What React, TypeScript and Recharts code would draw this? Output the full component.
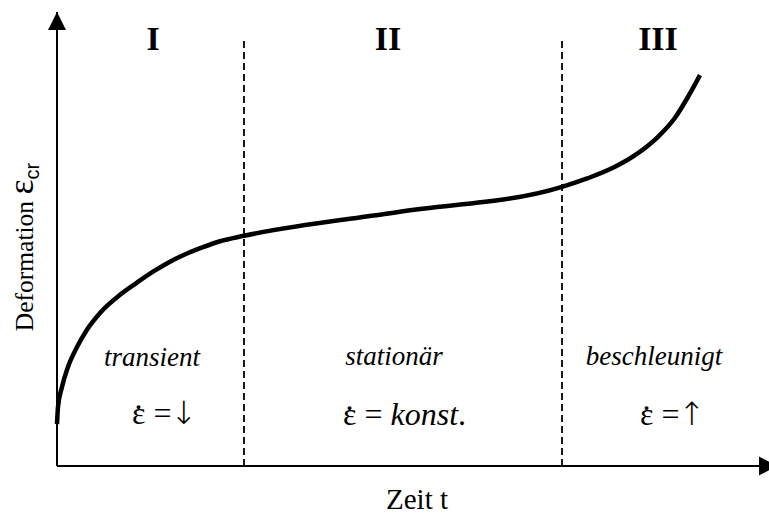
import React from 'react';
import {
  LineChart, Line, XAxis, YAxis, ReferenceLine, ReferenceDot, Customized,
} from 'recharts';

// Zeit t (0..100) und Deformation (0..100)
const TIME = [0, 0.14, 0.7, 1.54, 2.81, 4.21, 6.04, 8.85, 11.24, 13.48, 15.87, 18.26, 20.51, 22.89, 26.26, 48.17, 70.93, 74.58, 78.37, 81.6, 84.41, 86.8, 88.62, 90.31];
const STRAIN = [9.2, 13.0, 17.4, 21.8, 26.2, 30.0, 33.7, 37.7, 40.4, 42.8, 45.0, 46.8, 48.2, 49.5, 50.7, 56.0, 61.5, 63.4, 65.9, 68.9, 72.5, 76.7, 81.3, 86.1];

const PHASE_BOUNDS = [26.26, 70.93];
const PHASE_NAMES = ['I', 'II', 'III'];
const PHASE_TYPES = ['transient', 'stationär', 'beschleunigt'];

const data = TIME.map((t, i) => ({ t, eps: STRAIN[i] }));

const SERIF = '"Liberation Serif", "Times New Roman", serif';
const SANS = '"Liberation Sans", Arial, sans-serif';

function ArrowUp(props: any) {
  const { cx, cy } = props;
  return <polygon points={`${cx},${cy} ${cx - 9},${cy + 18} ${cx + 9},${cy + 18}`} fill="#000" />;
}

function ArrowRight(props: any) {
  const { cx, cy } = props;
  return <polygon points={`${cx + 8},${cy} ${cx - 10},${cy - 9.5} ${cx - 10},${cy + 9.5}`} fill="#000" />;
}

function Annotations() {
  const eq = { fontFamily: SERIF, fontSize: 32, fill: '#000' };
  const arrow = { fontFamily: '"DejaVu Sans", sans-serif', fontWeight: 200, fontSize: 32 };
  // epsilon + punkt darueber als tspans in einem text
  const dot = (
    <>
      {'\u03B5'}
      <tspan dx={-11} dy={-15}>.</tspan>
    </>
  );
  return (
    <g>
      <text x={153} y={50} textAnchor="middle" fontFamily={SERIF} fontWeight="bold" fontSize={34}>{PHASE_NAMES[0]}</text>
      <text x={388} y={50} textAnchor="middle" fontFamily={SERIF} fontWeight="bold" fontSize={34}>{PHASE_NAMES[1]}</text>
      <text x={658} y={50} textAnchor="middle" fontFamily={SERIF} fontWeight="bold" fontSize={34}>{PHASE_NAMES[2]}</text>

      <text x={152} y={366} textAnchor="middle" fontFamily={SERIF} fontStyle="italic" fontSize={27}>{PHASE_TYPES[0]}</text>
      <text x={394} y={365} textAnchor="middle" fontFamily={SERIF} fontStyle="italic" fontSize={27}>{PHASE_TYPES[1]}</text>
      <text x={654} y={365} textAnchor="middle" fontFamily={SERIF} fontStyle="italic" fontSize={27}>{PHASE_TYPES[2]}</text>

      <text x={132} y={424} {...eq}>
        {dot}<tspan dx={11} dy={15}>=</tspan><tspan dx={-1} {...arrow}>{'\u2193'}</tspan>
      </text>
      <text x={343} y={425} {...eq}>
        {dot}<tspan dx={11} dy={15}>= </tspan><tspan fontStyle="italic">konst</tspan>.
      </text>
      <text x={640} y={425} {...eq}>
        {dot}<tspan dx={11} dy={15}>=</tspan><tspan dx={-1} {...arrow}>{'\u2191'}</tspan>
      </text>

      <text x={417} y={509} textAnchor="middle" fontFamily={SERIF} fontSize={29}>Zeit t</text>
      <text x={33} y={247} textAnchor="middle" transform="rotate(-90 33 247)" fontFamily={SERIF} fontSize={25.5}>
        Deformation <tspan fontSize={36}>{'\u03B5'}</tspan><tspan fontFamily={SANS} fontSize={20} dy={6}>cr</tspan>
      </text>
    </g>
  );
}

export default function App() {
  return (
    <div style={{ position: 'absolute', left: 0, top: 0, background: '#fff' }}>
      <LineChart width={769} height={515} data={data} margin={{ top: 12, right: 0, left: 57, bottom: 49 }}>
        <XAxis dataKey="t" type="number" domain={[0, 100]} hide />
        <YAxis type="number" domain={[0, 100]} hide />
        <ReferenceLine x={0} stroke="#000" strokeWidth={2} ifOverflow="visible" />
        <ReferenceLine y={0} stroke="#000" strokeWidth={2} ifOverflow="visible" />
        {PHASE_BOUNDS.map((b) => (
          <ReferenceLine
            key={b}
            segment={[{ x: b, y: 0 }, { x: b, y: 93.8 }]}
            stroke="#000"
            strokeWidth={1.8}
            strokeDasharray="7 4"
          />
        ))}
        <Line
          type="monotone"
          dataKey="eps"
          stroke="#000"
          strokeWidth={4.5}
          dot={false}
          isAnimationActive={false}
        />
        <ReferenceDot x={0} y={100} r={0} shape={ArrowUp} ifOverflow="visible" />
        <ReferenceDot x={100} y={0} r={0} shape={ArrowRight} ifOverflow="visible" />
        <Customized component={Annotations} />
      </LineChart>
    </div>
  );
}
